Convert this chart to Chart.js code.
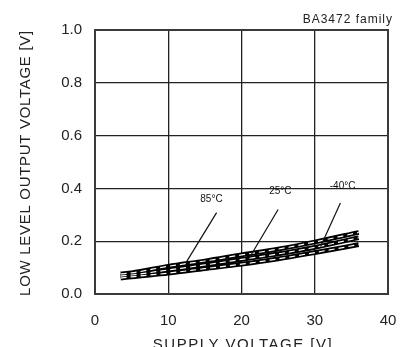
<!DOCTYPE html>
<html>
<head>
<meta charset="utf-8">
<script src="https://cdn.jsdelivr.net/npm/chart.js@4"></script>
<style>
html,body{margin:0;padding:0;background:#fff;}
#wrap{width:407px;height:347px;position:relative;}
</style>
</head>
<body>
<div id="wrap"><canvas id="c" width="407" height="347"></canvas></div>
<script>
// Data
const supplyV = [3.5, 5, 10, 15, 20, 25, 30, 36];
const vol85 = [0.076, 0.080, 0.105, 0.125, 0.148, 0.170, 0.197, 0.233];
const vol25 = [0.068, 0.072, 0.091, 0.110, 0.131, 0.152, 0.177, 0.213];
const volM40 = [0.060, 0.065, 0.079, 0.096, 0.113, 0.133, 0.157, 0.187];
const seriesNames = ['85°C', '25°C', '-40°C'];
const xTicks = [0, 10, 20, 30, 40];
const yTicks = [0.0, 0.2, 0.4, 0.6, 0.8, 1.0];
const chartTitle = 'BA3472 family';
const xTitle = 'SUPPLY VOLTAGE [V]';
const yTitle = 'LOW LEVEL OUTPUT VOLTAGE [V]';
// label anchors in data coordinates: [labelX, labelY, leaderTopX, leaderTopY, leaderEndX, leaderEndY]
const labelAnchors = [
  [15.9, 0.358, 16.6, 0.308, 12.4, 0.118],
  [25.3, 0.390, 25.0, 0.320, 21.1, 0.138],
  [33.8, 0.408, 33.5, 0.345, 30.8, 0.180]
];

const seriesVals = [vol85, vol25, volM40];
const toPts = arr => supplyV.map((x, i) => ({x: x, y: arr[i]}));
const datasets = [];
seriesVals.forEach((arr, i) => {
  datasets.push({label: seriesNames[i], data: toPts(arr), borderColor: '#000', borderWidth: 4.8,
    pointRadius: 0, cubicInterpolationMode: 'monotone', order: 2, fill: false});
});
seriesVals.forEach((arr, i) => {
  datasets.push({label: seriesNames[i] + ' inner', data: toPts(arr), borderColor: '#fff', borderWidth: 1.2,
    borderDash: [6, 4], pointRadius: 0, cubicInterpolationMode: 'monotone', order: 1, fill: false});
});

const FONT = '"Liberation Sans", Arial, sans-serif';

const decor = {
  id: 'decor',
  beforeDatasetsDraw(chart) {
    const {ctx, chartArea: a} = chart;
    ctx.save();
    ctx.strokeStyle = '#3a3a3a';
    ctx.lineWidth = 2;
    ctx.strokeRect(a.left, a.top, a.right - a.left, a.bottom - a.top);
    ctx.restore();
  },
  afterDatasetsDraw(chart) {
    const {ctx, scales: {x, y}} = chart;
    ctx.save();
    // leaders and labels
    ctx.strokeStyle = '#111';
    ctx.lineWidth = 1.2;
    ctx.fillStyle = '#111';
    ctx.font = '10px ' + FONT;
    ctx.textAlign = 'center';
    ctx.textBaseline = 'middle';
    labelAnchors.forEach((p, i) => {
      ctx.beginPath();
      ctx.moveTo(x.getPixelForValue(p[2]), y.getPixelForValue(p[3]));
      ctx.lineTo(x.getPixelForValue(p[4]), y.getPixelForValue(p[5]));
      ctx.stroke();
      ctx.fillText(seriesNames[i], x.getPixelForValue(p[0]), y.getPixelForValue(p[1]));
    });
    // chart title
    ctx.fillStyle = '#222';
    ctx.font = '12px ' + FONT;
    ctx.letterSpacing = '1px';
    ctx.textAlign = 'right';
    ctx.fillText(chartTitle, 393, 20);
    // x title
    ctx.font = '15px ' + FONT;
    ctx.letterSpacing = '1.5px';
    ctx.textAlign = 'center';
    ctx.textBaseline = 'alphabetic';
    ctx.fillText(xTitle, 243, 349);
    // y title
    ctx.letterSpacing = '0.7px';
    ctx.translate(26, 163);
    ctx.rotate(-Math.PI / 2);
    ctx.textBaseline = 'middle';
    ctx.fillText(yTitle, 0, 0);
    ctx.restore();
  }
};

new Chart(document.getElementById('c'), {
  type: 'line',
  data: {datasets: datasets},
  options: {
    responsive: false,
    animation: false,
    events: [],
    layout: {padding: {top: 30, right: 19, left: 0, bottom: 0}},
    plugins: {legend: {display: false}, tooltip: {enabled: false}, title: {display: false}},
    scales: {
      x: {
        type: 'linear', min: 0, max: 40,
        afterFit(s) { s.height = 53; s.paddingLeft = 0; s.paddingRight = 0; },
        afterBuildTicks(s) { s.ticks = xTicks.map(v => ({value: v})); },
        grid: {color: '#222', lineWidth: 1.3, drawTicks: false},
        border: {display: false},
        ticks: {padding: 18, color: '#222', font: {family: FONT, size: 15}, maxRotation: 0}
      },
      y: {
        type: 'linear', min: 0, max: 1.0,
        afterFit(s) { s.width = 95; s.paddingTop = 0; s.paddingBottom = 0; },
        afterBuildTicks(s) { s.ticks = yTicks.map(v => ({value: v})); },
        grid: {color: '#222', lineWidth: 1.3, drawTicks: false},
        border: {display: false},
        ticks: {padding: 13, color: '#222', font: {family: FONT, size: 15},
          callback: v => Number(v).toFixed(1)}
      }
    }
  },
  plugins: [decor]
});
</script>
</body>
</html>
